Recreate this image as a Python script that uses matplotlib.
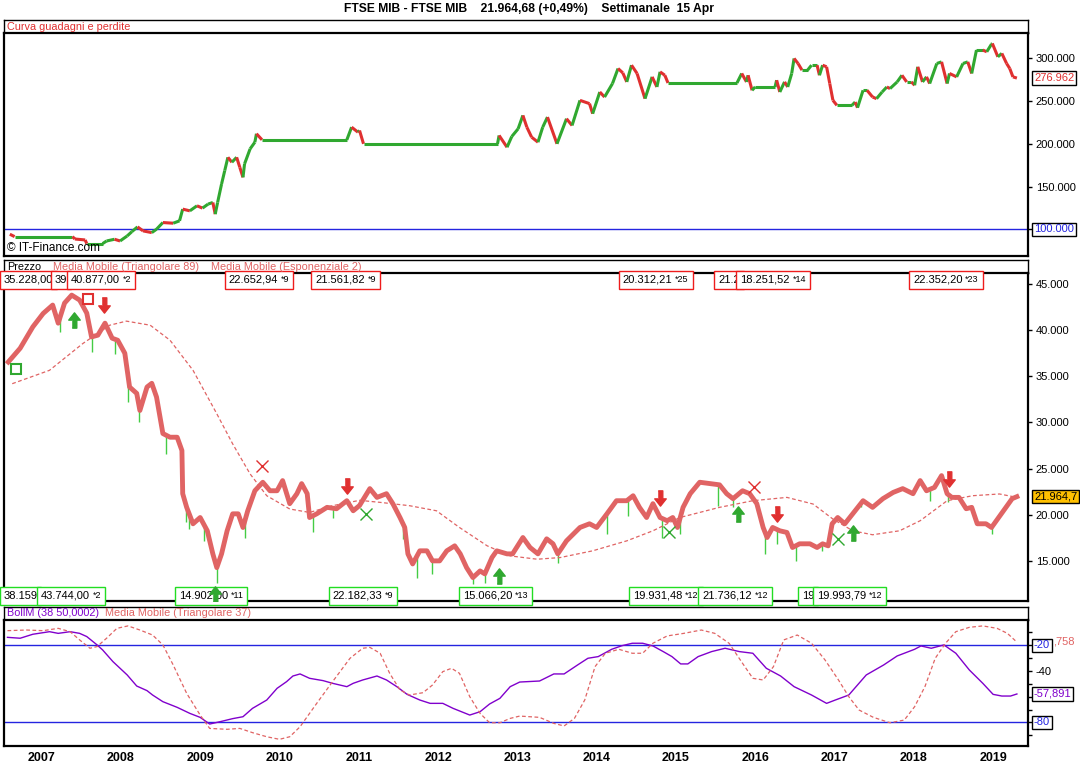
import matplotlib
matplotlib.use("Agg")
import numpy as np
import matplotlib.pyplot as plt
from matplotlib.collections import LineCollection
from matplotlib.offsetbox import TextArea, HPacker, AnnotationBbox
from matplotlib.transforms import blended_transform_factory

plt.rcParams['font.family'] = ['Liberation Sans', 'DejaVu Sans']

# ---- equity curve (top panel) ----
eq_t = [2006.60, 2006.66, 2007.39, 2007.42, 2007.55, 2007.57, 2007.77, 2007.82, 2007.92, 2007.99,
        2008.08, 2008.14, 2008.21, 2008.28, 2008.39, 2008.45, 2008.53, 2008.66, 2008.74, 2008.78,
        2008.87, 2008.96, 2009.03, 2009.10, 2009.16, 2009.19, 2009.22, 2009.27, 2009.31, 2009.35,
        2009.40, 2009.46, 2009.50, 2009.54, 2009.56, 2009.63, 2009.69, 2009.71, 2009.78, 2010.85,
        2010.91, 2010.99, 2011.01, 2011.06, 2012.75, 2012.77, 2012.87, 2012.93, 2013.01, 2013.07,
        2013.12, 2013.18, 2013.26, 2013.32, 2013.38, 2013.50, 2013.62, 2013.69, 2013.79, 2013.91,
        2013.95, 2014.04, 2014.10, 2014.20, 2014.27, 2014.33, 2014.38, 2014.44, 2014.51, 2014.61,
        2014.70, 2014.76, 2014.80, 2014.86, 2014.90, 2015.77, 2015.83, 2015.89, 2015.91, 2015.96,
        2016.00, 2016.25, 2016.27, 2016.31, 2016.37, 2016.41, 2016.46, 2016.49, 2016.54, 2016.59,
        2016.66, 2016.71, 2016.78, 2016.81, 2016.85, 2016.90, 2016.94, 2016.98, 2017.03, 2017.22,
        2017.26, 2017.29, 2017.36, 2017.41, 2017.48, 2017.53, 2017.60, 2017.66, 2017.70, 2017.79,
        2017.85, 2017.91, 2017.97, 2018.01, 2018.05, 2018.11, 2018.16, 2018.20, 2018.29, 2018.35,
        2018.42, 2018.45, 2018.54, 2018.62, 2018.68, 2018.73, 2018.79, 2018.87, 2018.92, 2018.98,
        2018.99, 2019.06, 2019.11, 2019.17, 2019.21, 2019.25, 2019.30]
eq_v = [94.1, 91.3, 91.3, 88.5, 87.4, 83.1, 83.1, 86.2, 88.2, 86.2,
        92.1, 97.2, 102.7, 98.0, 96.0, 100.0, 107.8, 107.0, 109.8, 123.5,
        121.5, 127.4, 124.7, 129.4, 131.3, 117.6, 131.3, 152.9, 168.6, 184.2,
        178.4, 184.2, 172.5, 160.7, 176.5, 194.1, 201.9, 211.8, 204.7, 204.7,
        219.5, 213.6, 215.6, 200.0, 200.0, 209.8, 196.0, 208.6, 217.6, 233.3,
        219.5, 207.8, 201.9, 219.5, 231.3, 200.0, 229.4, 221.5, 250.9, 247.1,
        235.3, 260.7, 254.8, 270.6, 288.2, 283.1, 272.5, 292.1, 282.4, 252.9,
        278.4, 266.6, 284.3, 280.3, 271.3, 271.3, 282.4, 272.5, 280.3, 262.7,
        266.6, 266.6, 274.5, 260.7, 272.5, 266.6, 282.4, 300.0, 294.1, 286.3,
        286.3, 292.1, 292.1, 280.3, 292.1, 290.2, 270.6, 250.9, 245.1, 245.1,
        248.9, 242.3, 262.7, 262.7, 254.8, 252.9, 260.7, 266.6, 264.7, 272.5,
        280.3, 272.5, 272.5, 268.6, 290.2, 272.5, 278.4, 270.6, 294.1, 296.0,
        270.6, 282.4, 278.4, 294.1, 296.0, 282.4, 309.8, 309.8, 307.8, 316.8,
        317.6, 301.9, 305.9, 294.1, 288.2, 278.4, 277.0]

# ---- price (middle panel) ----
price_t = [2006.58, 2006.73, 2006.89, 2007.02, 2007.14, 2007.21, 2007.29, 2007.38, 2007.48, 2007.57,
           2007.63, 2007.71, 2007.80, 2007.89, 2007.96, 2008.05, 2008.11, 2008.20, 2008.24, 2008.33,
           2008.39, 2008.45, 2008.53, 2008.62, 2008.71, 2008.77, 2008.78, 2008.83, 2008.91, 2009.00,
           2009.09, 2009.16, 2009.21, 2009.27, 2009.34, 2009.41, 2009.48, 2009.54, 2009.60, 2009.69,
           2009.79, 2009.88, 2009.97, 2010.04, 2010.13, 2010.22, 2010.28, 2010.35, 2010.38, 2010.47,
           2010.60, 2010.72, 2010.85, 2010.93, 2011.01, 2011.14, 2011.23, 2011.35, 2011.43, 2011.52,
           2011.58, 2011.62, 2011.68, 2011.77, 2011.86, 2011.93, 2012.02, 2012.11, 2012.21, 2012.28,
           2012.36, 2012.44, 2012.53, 2012.59, 2012.68, 2012.74, 2012.87, 2012.94, 2013.07, 2013.16,
           2013.26, 2013.37, 2013.45, 2013.51, 2013.62, 2013.79, 2013.91, 2014.00, 2014.13, 2014.25,
           2014.38, 2014.46, 2014.54, 2014.63, 2014.71, 2014.80, 2014.89, 2014.96, 2015.02, 2015.09,
           2015.18, 2015.30, 2015.43, 2015.55, 2015.64, 2015.72, 2015.84, 2015.93, 2016.02, 2016.10,
           2016.15, 2016.22, 2016.31, 2016.40, 2016.47, 2016.56, 2016.69, 2016.78, 2016.85, 2016.92,
           2016.97, 2017.04, 2017.13, 2017.23, 2017.36, 2017.48, 2017.61, 2017.74, 2017.86, 2017.99,
           2018.08, 2018.16, 2018.26, 2018.35, 2018.42, 2018.48, 2018.57, 2018.66, 2018.73, 2018.80,
           2018.91, 2018.98, 2019.07, 2019.16, 2019.24, 2019.30]
price_v = [36550, 38040, 40360, 41810, 42720, 40760, 42940, 43800, 43260, 41850,
           39270, 39460, 40760, 39130, 38910, 37500, 33840, 33150, 31300, 33840,
           34240, 32750, 28800, 28400, 28400, 26960, 22280, 20800, 19020, 19700,
           18260, 15760, 14270, 15760, 18260, 20100, 20100, 18620, 20430, 22600,
           23520, 22600, 22600, 23700, 21200, 22280, 23370, 22280, 19700, 20100,
           20800, 20650, 21520, 20430, 21000, 22830, 21880, 22280, 21200, 19700,
           18620, 15760, 14670, 16090, 16090, 15000, 15000, 16090, 16630, 15760,
           14270, 13190, 13910, 13590, 15360, 16090, 15760, 15760, 17530, 16450,
           15760, 17390, 16850, 15760, 17170, 18620, 19020, 18620, 20100, 21520,
           21520, 22060, 20800, 19700, 21200, 19700, 19350, 19700, 18620, 20800,
           22280, 23520, 23370, 23240, 22280, 21740, 22600, 22280, 21200, 18620,
           17530, 18620, 18260, 18080, 16450, 16850, 16850, 16450, 16850, 16630,
           19020, 19700, 19020, 20100, 21520, 20800, 21740, 22420, 22830, 22280,
           23700, 22600, 22960, 24240, 22280, 21880, 21880, 20650, 20800, 19020,
           19020, 18620, 19700, 20800, 21740, 21960]

wick_t = [2007.23, 2007.64, 2007.92, 2008.09, 2008.23, 2008.57, 2008.82, 2008.86, 2009.05, 2009.21,
          2009.56, 2010.42, 2010.67, 2011.56, 2011.73, 2011.92, 2012.44, 2012.59, 2013.51, 2014.13,
          2014.39, 2014.82, 2015.05, 2015.53, 2015.72, 2016.12, 2016.28, 2016.51, 2016.84, 2017.34,
          2018.20, 2018.43, 2018.99]
wick_low = [39820, 37640, 37470, 32200, 30030, 26590, 19160, 18440, 17170, 12640,
            17530, 18080, 19700, 17350, 13180, 13540, 12520, 12640, 14820, 17900,
            19890, 17530, 17900, 20980, 20800, 15730, 16810, 15000, 16090, 20800,
            21520, 21340, 17900]

ma89_t = [2006.63, 2007.10, 2007.52, 2007.86, 2008.07, 2008.37, 2008.62, 2008.91, 2009.21, 2009.41,
          2009.63, 2009.84, 2010.13, 2010.38, 2010.67, 2011.01, 2011.27, 2011.64, 2011.98, 2012.27,
          2012.62, 2012.91, 2013.25, 2013.54, 2013.95, 2014.38, 2014.71, 2015.05, 2015.55, 2015.97,
          2016.40, 2016.73, 2016.98, 2017.23, 2017.48, 2017.82, 2018.08, 2018.42, 2018.74, 2019.08,
          2019.30]
ma89_v = [34200, 35650, 38550, 40540, 40980, 40540, 38910, 35650, 30940, 27680,
          24420, 22060, 20620, 20250, 20980, 21560, 21340, 20980, 20430, 18620,
          16630, 15540, 15180, 15360, 16090, 17170, 18260, 19700, 20800, 21520,
          21880, 21160, 19530, 18260, 17830, 18260, 19350, 21520, 22060, 22250,
          21880]

# trade signals
buy_arrow_t = [2007.41, 2009.19, 2012.77, 2015.78, 2017.23]
buy_arrow_v = [41090, 11410, 13370, 20030, 18040]
sell_arrow_t = [2007.79, 2010.85, 2014.80, 2016.27, 2018.44]
sell_arrow_v = [42680, 23120, 21850, 20030, 23910]
open_long_t, open_long_v = [2006.68], [35840]
open_short_t, open_short_v = [2007.58], [43330]
exit_red_t, exit_red_v = [2009.78, 2015.99], [25330, 22960]
exit_green_t, exit_green_v = [2011.09, 2014.91, 2017.04], [20070, 18080, 17350]

top_tags = ["35.228,00", "39", "40.877,00", "22.652,94", "21.561,82", "20.312,21", "21.2",
            "18.251,52", "22.352,20"]
top_tag_n = ["", "", "*2", "*9", "*9", "*25", "", "*14", "*23"]
top_tag_t = [2006.52, 2007.17, 2007.37, 2009.36, 2010.45, 2014.33, 2015.53, 2015.81, 2017.99]
bot_tags = ["38.159", "43.744,00", "14.902,00", "22.182,33", "15.066,20", "19.931,48",
            "21.736,12", "19", "19.993,79"]
bot_tag_n = ["", "*2", "*11", "*9", "*13", "*12", "*12", "", "*12"]
bot_tag_t = [2006.52, 2006.99, 2008.73, 2010.67, 2012.31, 2014.46, 2015.33, 2016.59, 2016.78]

# ---- oscillator (bottom panel) ----
boll_t = [2006.57, 2006.73, 2006.89, 2007.10, 2007.21, 2007.36, 2007.48, 2007.57, 2007.70, 2007.77,
          2007.90, 2008.08, 2008.20, 2008.33, 2008.40, 2008.53, 2008.71, 2008.87, 2009.00, 2009.12,
          2009.25, 2009.41, 2009.54, 2009.66, 2009.84, 2009.97, 2010.09, 2010.17, 2010.26, 2010.38,
          2010.55, 2010.67, 2010.85, 2010.93, 2011.05, 2011.23, 2011.35, 2011.48, 2011.61, 2011.77,
          2011.90, 2012.06, 2012.19, 2012.40, 2012.53, 2012.65, 2012.78, 2012.91, 2013.03, 2013.28,
          2013.46, 2013.59, 2013.76, 2013.89, 2014.02, 2014.19, 2014.32, 2014.45, 2014.58, 2014.71,
          2014.84, 2014.95, 2015.06, 2015.15, 2015.28, 2015.45, 2015.62, 2015.80, 2015.97, 2016.14,
          2016.32, 2016.49, 2016.71, 2016.90, 2017.01, 2017.18, 2017.40, 2017.62, 2017.79, 2018.01,
          2018.09, 2018.22, 2018.38, 2018.53, 2018.70, 2018.87, 2019.00, 2019.11, 2019.22, 2019.30]
boll_v = [-13.8, -14.5, -11.4, -9.4, -10.7, -9.4, -10.7, -13.2, -19.7, -23.6,
          -32.7, -43.1, -51.7, -55.3, -58.7, -63.9, -68.3, -73.0, -76.1, -81.3,
          -79.5, -77.1, -75.6, -69.1, -62.6, -53.5, -48.3, -43.9, -42.3, -45.7,
          -47.5, -49.6, -52.2, -49.6, -47.0, -43.9, -47.0, -52.2, -58.2, -62.6,
          -65.2, -65.2, -69.1, -74.3, -71.7, -65.7, -61.3, -52.2, -48.6, -47.8,
          -42.3, -42.3, -35.3, -30.1, -28.8, -23.1, -20.3, -18.4, -18.4, -20.5,
          -24.9, -28.8, -34.5, -34.5, -28.8, -24.9, -22.3, -24.9, -26.2, -37.9,
          -43.9, -52.2, -58.7, -65.2, -62.6, -58.7, -43.1, -35.3, -28.3, -23.1,
          -20.5, -22.3, -19.7, -26.2, -39.2, -49.6, -58.2, -59.5, -59.5, -57.9]
ma37_t = [2006.57, 2006.81, 2007.02, 2007.21, 2007.36, 2007.48, 2007.61, 2007.70, 2007.82, 2007.95,
          2008.09, 2008.24, 2008.40, 2008.53, 2008.66, 2008.83, 2009.00, 2009.12, 2009.34, 2009.50,
          2009.66, 2009.84, 2010.00, 2010.13, 2010.26, 2010.47, 2010.67, 2010.89, 2011.05, 2011.14,
          2011.27, 2011.39, 2011.52, 2011.64, 2011.81, 2011.93, 2012.06, 2012.17, 2012.27, 2012.40,
          2012.53, 2012.65, 2012.78, 2012.91, 2013.03, 2013.28, 2013.46, 2013.59, 2013.72, 2013.85,
          2013.98, 2014.11, 2014.28, 2014.45, 2014.58, 2014.71, 2014.89, 2015.10, 2015.32, 2015.49,
          2015.67, 2015.84, 2015.97, 2016.10, 2016.23, 2016.36, 2016.53, 2016.71, 2016.88, 2017.05,
          2017.18, 2017.31, 2017.49, 2017.70, 2017.88, 2018.01, 2018.14, 2018.27, 2018.40, 2018.53,
          2018.70, 2018.87, 2019.05, 2019.18, 2019.28]
ma37_v = [-8.6, -8.1, -8.6, -6.8, -9.4, -15.8, -22.3, -21.0, -14.5, -6.8,
          -4.9, -8.1, -12.0, -19.7, -35.3, -57.4, -74.3, -84.7, -85.4, -84.7,
          -88.0, -91.2, -93.2, -91.2, -83.4, -65.2, -48.3, -30.1, -22.3, -21.6,
          -26.2, -41.8, -54.8, -58.7, -56.9, -50.9, -40.5, -37.9, -41.8, -60.0,
          -73.0, -80.3, -80.3, -76.9, -75.1, -76.1, -80.8, -82.8, -76.9, -62.6,
          -36.6, -26.2, -23.1, -26.2, -26.2, -18.4, -12.7, -10.7, -8.1, -10.7,
          -18.4, -34.0, -45.7, -47.0, -36.6, -15.8, -12.0, -18.4, -31.4, -47.0,
          -60.0, -70.4, -76.1, -80.3, -78.2, -67.8, -52.2, -30.1, -18.4, -9.4,
          -6.0, -4.9, -6.8, -10.7, -16.4]

years = list(range(2007, 2020))
title = "FTSE MIB - FTSE MIB    21.964,68 (+0,49%)    Settimanale  15 Apr"

RED = '#e03030'
GREEN = '#30a830'
SALMON = '#e06464'
BLUE = '#2424e0'
PURPLE = '#8000cc'
W, H = 1080, 768
XMIN, XMAX = 2006.52, 2019.44

fig = plt.figure(figsize=(10.8, 7.68), dpi=100)


def rect(x0, y0, x1, y1):
    return [x0 / W, 1 - y1 / H, (x1 - x0) / W, (y1 - y0) / H]


def panel(y0, yh, y1):
    hd = fig.add_axes(rect(3.5, y0, 1028, yh))
    hd.set_xticks([]); hd.set_yticks([])
    for s in hd.spines.values():
        s.set_linewidth(1)
    ax = fig.add_axes(rect(3.5, yh, 1028, y1))
    for s in ax.spines.values():
        s.set_linewidth(1.6)
    ax.set_xlim(XMIN, XMAX)
    ax.yaxis.tick_right()
    ax.tick_params(axis='y', direction='out', length=3, width=1, pad=2.5, labelsize=8)
    return ax


def side_tag(ax, v, s, color, fc='white', z=6, dx=6):
    ax.annotate(s, xy=(1, v), xycoords=('axes fraction', 'data'), xytext=(dx, 0),
                textcoords='offset pixels', ha='left', va='center', fontsize=8, color=color,
                bbox=dict(boxstyle='square,pad=0.15', fc=fc, ec='black', lw=1),
                annotation_clip=False, zorder=z)


def tag(ax, t, main, extra, top, ec, z):
    kids = [TextArea(main, textprops=dict(size=8, color='black'))]
    if extra:
        kids.append(TextArea(extra, textprops=dict(size=6.5, color='black')))
    pack = HPacker(children=kids, align='center', pad=0, sep=2)
    tr = blended_transform_factory(ax.transData, ax.transAxes)
    ab = AnnotationBbox(pack, (t, 0.994 if top else 0.0), xycoords=tr,
                        box_alignment=(0, 1 if top else 0), frameon=True, pad=0.28,
                        bboxprops=dict(ec=ec, fc='white', lw=1, boxstyle='square,pad=0.28'),
                        annotation_clip=False)
    ab.set_zorder(z)
    ax.add_artist(ab)


# ---- top panel ----
ax1 = panel(20, 33, 256)
ax1.set_ylim(68.6, 329.8)
pts = np.column_stack([eq_t, eq_v])
segs = np.stack([pts[:-1], pts[1:]], axis=1)
cols = [GREEN if b >= a else RED for a, b in zip(eq_v[:-1], eq_v[1:])]
ax1.add_collection(LineCollection(segs, colors=cols, linewidths=2.2, zorder=3))
ax1.axhline(100, color=BLUE, lw=1, zorder=2)
ax1.set_xticks([])
ax1.set_yticks([100, 150, 200, 250, 300])
ax1.set_yticklabels(['', '150.000', '200.000', '250.000', '300.000'])
side_tag(ax1, 100, '100.000', BLUE)
side_tag(ax1, eq_v[-1], '276.962', RED)
ax1.text(0.003, 0.008, '\u00a9 IT-Finance.com', transform=ax1.transAxes, fontsize=8.5,
         ha='left', va='bottom')

# ---- middle panel ----
ax2 = panel(260, 273, 601)
ax2.set_ylim(10652, 46196)
ax2.vlines(wick_t, wick_low, np.interp(wick_t, price_t, price_v), color='#44cc44', lw=1, zorder=2)
ax2.plot(price_t, price_v, color=SALMON, lw=3.5, zorder=3)
ax2.plot(ma89_t, ma89_v, color=SALMON, lw=0.9, ls=(0, (3, 2)), zorder=4)
ax2.set_xticks([])
ticks2 = list(range(15000, 45001, 5000))
ax2.set_yticks(ticks2)
ax2.set_yticklabels([f"{v // 1000}.000" for v in ticks2])

up = [(-0.3, -1), (0.3, -1), (0.3, 0.05), (0.75, 0.05), (0, 1), (-0.75, 0.05), (-0.3, 0.05)]
down = [(x, -y) for x, y in up]
ax2.plot(buy_arrow_t, buy_arrow_v, ls='none', marker=up, ms=11, color=GREEN, mec=GREEN, zorder=20)
ax2.plot(sell_arrow_t, sell_arrow_v, ls='none', marker=down, ms=11, color=RED, mec=RED, zorder=20)
ax2.plot(open_long_t, open_long_v, ls='none', marker='s', ms=7.5, mfc='none', mec=GREEN, mew=1.5, zorder=20)
ax2.plot(open_short_t, open_short_v, ls='none', marker='s', ms=7.5, mfc='none', mec=RED, mew=1.5, zorder=20)
ax2.plot(exit_red_t, exit_red_v, ls='none', marker='x', ms=8, mec=RED, mew=1, zorder=20)
ax2.plot(exit_green_t, exit_green_v, ls='none', marker='x', ms=8, mec=GREEN, mew=1, zorder=20)

for i, (t, s, n) in enumerate(zip(top_tag_t, top_tags, top_tag_n)):
    tag(ax2, t, s, n, True, '#ee1c1c', 10 + i)
for i, (t, s, n) in enumerate(zip(bot_tag_t, bot_tags, bot_tag_n)):
    tag(ax2, t, s, n, False, '#22dd22', 10 + i)
side_tag(ax2, price_v[-1], '21.964,7', 'black', fc='#ffc000')

# ---- bottom panel ----
ax3 = panel(607, 620, 746)
ax3.set_ylim(-98.4, -0.3)
ax3.plot(boll_t, boll_v, color=PURPLE, lw=1, zorder=3)
ax3.plot(ma37_t, ma37_v, color=SALMON, lw=0.9, ls=(0, (3, 2)), zorder=3)
ax3.axhline(-20, color=BLUE, lw=1, zorder=2)
ax3.axhline(-80, color=BLUE, lw=1, zorder=2)
ticks3 = list(range(-90, 0, 10))
ax3.set_yticks(ticks3)
ax3.set_yticklabels(['-40' if v == -40 else '' for v in ticks3])
# the MA37 value tag is hidden behind the -20 box; only its tail shows
ax3.annotate(',758', xy=(1, ma37_v[-1]), xycoords=('axes fraction', 'data'), xytext=(25, -1),
             textcoords='offset pixels', ha='left', va='center', fontsize=8, color=SALMON,
             annotation_clip=False, zorder=5)
side_tag(ax3, -20, '-20', BLUE, z=7)
side_tag(ax3, -80, '-80', BLUE)
side_tag(ax3, boll_v[-1], '-57,891', PURPLE)
ax3.set_xticks(years)
ax3.set_xticklabels([str(y) for y in years], fontsize=9, fontweight='bold')
ax3.tick_params(axis='x', length=0, pad=4)

# ---- headers and title ----
def ftext(x, y, s, **kw):
    fig.text(x / W, 1 - y / H, s, va='center', ha='left', fontsize=7.8, **kw)


ftext(7, 27, 'Curva guadagni e perdite', color=RED)
ftext(7, 267, 'Prezzo', color='black')
ftext(53, 267, 'Media Mobile (Triangolare 89)', color=SALMON)
ftext(211, 267, 'Media Mobile (Esponenziale 2)', color=SALMON)
ftext(7, 613.5, 'BollM (38 50,0002)', color=PURPLE)
ftext(105, 613.5, 'Media Mobile (Triangolare 37)', color=SALMON)
fig.text(529 / W, 1 - 9 / H, title, ha='center', va='center', fontsize=8.7, fontweight='bold')

fig.savefig('out.png', dpi=100)
